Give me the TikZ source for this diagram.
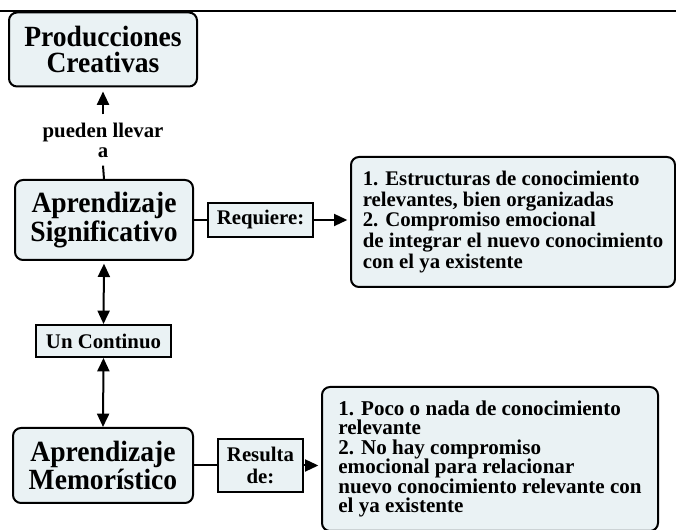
\documentclass[tikz,border=0pt]{standalone}
\usepackage{fontspec}
\setmainfont{Liberation Serif}
\newfontfamily\bigserif[FakeStretch=0.94]{Liberation Serif}
\usetikzlibrary{arrows.meta}
\definecolor{boxfill}{RGB}{234,242,244}
\begin{document}
\begin{tikzpicture}[x=0.75pt,y=-0.75pt,
  every node/.style={font=\bfseries},
  rbox/.style={draw, line width=1.5pt, fill=boxfill, rounded corners=6pt, inner sep=0pt, align=center},
  sbox/.style={draw, line width=1.5pt, fill=boxfill, inner sep=0pt, align=center},
  bigfont/.style={font=\bigserif\fontsize{22}{19}\selectfont\bfseries},
  smallfont/.style={font=\fontsize{15.6}{15.5}\selectfont\bfseries},
  conn/.style={line width=1.5pt},
  arr/.style={conn, -{Triangle[length=10pt,width=9pt]}},
  darr/.style={conn, {Triangle[length=10pt,width=9pt]}-{Triangle[length=10pt,width=9pt]}},
]
\useasboundingbox (0,0) rectangle (676,530);
\clip (0,0) rectangle (676,530);
\fill[white] (0,0) rectangle (676,530);

\coordinate (tl) at (0,11);
\coordinate (tr) at (676,11);
\draw[line width=1.5pt] (tl) -- (tr);

\node[rbox, bigfont, font=\bigserif\fontsize{22}{19.6}\selectfont\bfseries, minimum width=141pt, minimum height=55.5pt] (P) at (103,49.5) {Producciones\\Creativas};
\node[rbox, bigfont, minimum width=133.5pt, minimum height=60pt] (AS) at (104,220) {Aprendizaje\\Significativo};
\node[sbox, smallfont, minimum width=78.75pt, minimum height=25.5pt] (Req) at (260.5,220) {Requiere:};
\node[rbox, smallfont, align=left, minimum width=243pt, minimum height=97.5pt] (B1) at (513,222)
  {1. Estructuras de conocimiento\\relevantes, bien organizadas\\2. Compromiso emocional\\de integrar el nuevo conocimiento\\con el ya existente};
\node[fill=white, font=\fontsize{15.6}{15}\selectfont\bfseries, align=center, inner xsep=2pt, inner ysep=6pt] (lab) at (103,140) {pueden llevar\\a};
\node[sbox, smallfont, minimum width=101.25pt, minimum height=24pt] (UnC) at (103.5,341) {Un Continuo};
\node[rbox, bigfont, minimum width=135pt, minimum height=56.25pt] (AM) at (103,465.5) {Aprendizaje\\Memorístico};
\node[sbox, font=\fontsize{15.6}{16.5}\selectfont\bfseries, minimum width=63.75pt, minimum height=39.75pt] (Res) at (260.5,465.5) {Resulta\\de:};
\node[rbox, font=\fontsize{15.8}{14.6}\selectfont\bfseries, align=left, minimum width=252pt, minimum height=108pt] (B2) at (490,459)
  {1. Poco o nada de conocimiento\\relevante\\2. No hay compromiso\\emocional para relacionar\\nuevo conocimiento relevante con\\el ya existente};

\draw[conn] (AS.north) -- (lab.south);
\draw[arr, shorten >=3pt] (lab.north) -- (P.south);
\draw[darr, shorten <=2pt] (AS.south) -- (UnC.north);
\draw[darr] (UnC.south) -- (AM.north);
\draw[conn] (AS.east) -- (Req.west);
\draw[arr, shorten >=2pt] (Req.east) -- (Req.east -| B1.west);
\draw[conn] (AM.east) -- (Res.west);
\draw[arr, shorten >=2pt] (Res.east) -- (Res.east -| B2.west);
\end{tikzpicture}
\end{document}
